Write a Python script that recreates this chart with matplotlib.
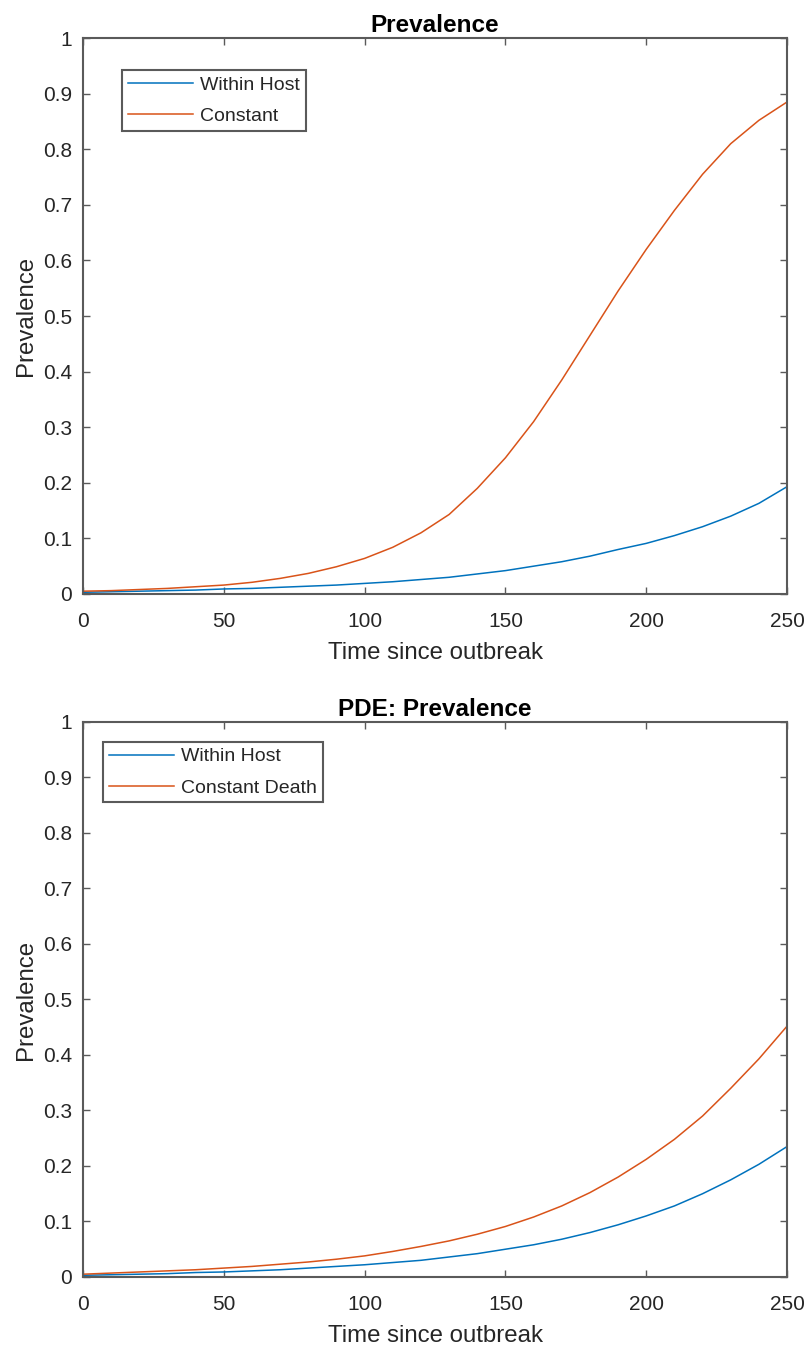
import matplotlib
matplotlib.use("Agg")
import matplotlib.pyplot as plt

plt.rcParams["font.family"] = ["Liberation Sans", "DejaVu Sans"]

# time grid (days since outbreak)
t = [0, 10, 20, 30, 40, 50, 60, 70, 80, 90, 100, 110, 120, 130, 140, 150,
     160, 170, 180, 190, 200, 210, 220, 230, 240, 250]

# top panel: ODE prevalence
ode_within = [0.003, 0.004, 0.005, 0.006, 0.007, 0.009, 0.010, 0.012, 0.014, 0.016,
              0.019, 0.022, 0.026, 0.030, 0.036, 0.042, 0.050, 0.058, 0.068, 0.080,
              0.091, 0.105, 0.121, 0.140, 0.163, 0.193]
ode_const = [0.005, 0.006, 0.008, 0.010, 0.013, 0.016, 0.021, 0.028, 0.037, 0.049,
             0.064, 0.084, 0.110, 0.143, 0.190, 0.245, 0.310, 0.385, 0.465, 0.545,
             0.620, 0.690, 0.755, 0.810, 0.852, 0.885]

# bottom panel: PDE prevalence
pde_within = [0.003, 0.004, 0.005, 0.006, 0.008, 0.009, 0.011, 0.013, 0.016, 0.019,
              0.022, 0.026, 0.030, 0.036, 0.042, 0.050, 0.058, 0.068, 0.080, 0.094,
              0.110, 0.128, 0.150, 0.175, 0.203, 0.235]
pde_const = [0.005, 0.007, 0.009, 0.011, 0.013, 0.016, 0.019, 0.023, 0.027, 0.032,
             0.038, 0.046, 0.055, 0.065, 0.077, 0.091, 0.108, 0.128, 0.152, 0.180,
             0.212, 0.248, 0.290, 0.340, 0.393, 0.452]

xticks = [0, 50, 100, 150, 200, 250]
yticks = [0, 0.1, 0.2, 0.3, 0.4, 0.5, 0.6, 0.7, 0.8, 0.9, 1]
ytick_labels = ["0", "0.1", "0.2", "0.3", "0.4", "0.5", "0.6", "0.7", "0.8", "0.9", "1"]

BLUE = "#0072BD"
ORANGE = "#D95319"
TXT = "#262626"
SPINE = "#5a5a5a"

fig = plt.figure(figsize=(8.07, 13.49), dpi=100)
ax1 = fig.add_axes([0.1029, 0.5597, 0.8724, 0.4121])
ax2 = fig.add_axes([0.1029, 0.0534, 0.8724, 0.4114])

panels = [
    (ax1, "Prevalence", ode_within, ode_const, ["Within Host", "Constant"], (0.0554, 0.9424)),
    (ax2, "PDE: Prevalence", pde_within, pde_const, ["Within Host", "Constant Death"], (0.0284, 0.964)),
]

for ax, title, w, c, labels, anchor in panels:
    ax.plot(t, w, color=BLUE, lw=1.1, label=labels[0])
    ax.plot(t, c, color=ORANGE, lw=1.1, label=labels[1])
    ax.set_xlim(0, 250)
    ax.set_ylim(0, 1)
    ax.set_xticks(xticks)
    ax.set_yticks(yticks)
    ax.set_yticklabels(ytick_labels)
    ax.tick_params(direction="in", top=True, right=True, length=5, width=1,
                   colors=SPINE, labelsize=15, labelcolor=TXT)
    ax.tick_params(axis="x", pad=13)
    ax.tick_params(axis="y", pad=8)
    for s in ax.spines.values():
        s.set_color(SPINE)
        s.set_linewidth(1.5)
    ax.set_title(title, fontsize=17.5, fontweight="bold", color="black", pad=4)
    ax.set_xlabel("Time since outbreak", fontsize=17.3, color=TXT, labelpad=8)
    ax.set_ylabel("Prevalence", fontsize=17.3, color=TXT, labelpad=4)
    leg = ax.legend(loc="upper left", bbox_to_anchor=anchor, fontsize=14,
                    handlelength=3.35, fancybox=False, framealpha=1,
                    borderpad=0.3, labelspacing=0.7, handletextpad=0.35,
                    borderaxespad=0)
    leg.get_frame().set_edgecolor(SPINE)
    leg.get_frame().set_linewidth(1.5)
    for txt in leg.get_texts():
        txt.set_color(TXT)

fig.savefig("out.png", dpi=100)
